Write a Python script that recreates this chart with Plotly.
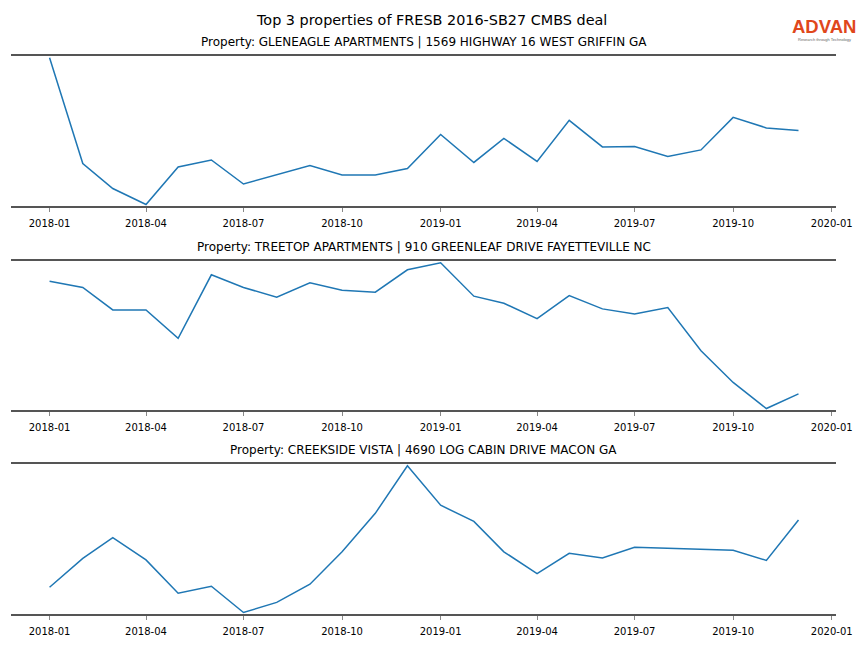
import plotly.graph_objects as go
import pandas as pd

months = pd.date_range("2018-01-01", "2019-12-01", freq="MS")

title_main = "Top 3 properties of FRESB 2016-SB27 CMBS deal"
prop_titles = [
    "Property: GLENEAGLE APARTMENTS | 1569 HIGHWAY 16 WEST GRIFFIN GA",
    "Property: TREETOP APARTMENTS | 910 GREENLEAF DRIVE FAYETTEVILLE NC",
    "Property: CREEKSIDE VISTA | 4690 LOG CABIN DRIVE MACON GA",
]

gleneagle = [594, 172, 72, 8, 158, 186, 90, 126, 164, 126, 126, 152,
             288, 176, 272, 180, 344, 238, 240, 200, 226, 356, 314, 304]
treetop = [386, 367, 300, 300, 215, 405, 367, 338, 381, 359, 353, 420,
           441, 341, 320, 274, 343, 303, 288, 307, 178, 83, 5, 49]
creekside = [53, 110, 151, 107, 41, 55, 3, 23, 59, 123, 199, 293,
             215, 183, 123, 80, 120, 111, 132, 130, 127, 126, 106, 186]

series = [gleneagle, treetop, creekside]

tick_vals = ["2018-01-01", "2018-04-01", "2018-07-01", "2018-10-01",
             "2019-01-01", "2019-04-01", "2019-07-01", "2019-10-01", "2020-01-01"]
tick_text = ["2018-01", "2018-04", "2018-07", "2018-10",
             "2019-01", "2019-04", "2019-07", "2019-10", "2020-01"]

# page body has an 8px margin; work in reference page pixels and shift
O = 8
W, H = 848, 632
ML = 11 - O
MR = W - (836 - O)
MT = 56 - O
MB = H - (614 - O)
PH = H - MT - MB
PW = W - ML - MR

def py(y):
    return (H - MB - (y - O)) / PH

def px(x):
    return ((x - O) - ML) / PW

panel_px = [(56, 206), (261, 410), (464, 614)]

fig = go.Figure()
font_family = "DejaVu Sans"

for i, vals in enumerate(series):
    n = i + 1
    xa = "x" if n == 1 else f"x{n}"
    ya = "y" if n == 1 else f"y{n}"
    fig.add_trace(go.Scatter(x=months, y=vals, mode="lines",
                             line=dict(color="#1f77b4", width=1.5),
                             xaxis=xa, yaxis=ya, showlegend=False,
                             hoverinfo="x+y"))
    top, bot = panel_px[i]
    lo, hi = min(vals), max(vals)
    span = hi - lo
    key = "" if n == 1 else str(n)
    fig.update_layout(**{
        f"xaxis{key}": dict(
            domain=[0, 1], anchor=ya, type="date",
            range=["2017-11-26", "2020-01-05"],
            tickvals=tick_vals, ticktext=tick_text,
            showline=True, mirror=True, linecolor="#555555", linewidth=2,
            ticks="outside", ticklen=4, tickwidth=1, tickcolor="#888888",
            ticklabelstandoff=3,
            showgrid=False, zeroline=False,
            tickfont=dict(size=10, color="#000000", family=font_family),
        ),
        f"yaxis{key}": dict(
            domain=[py(bot), py(top)], anchor=xa,
            range=[lo - 0.01 * span, hi + 0.012 * span],
            showline=False, showticklabels=False, ticks="",
            showgrid=False, zeroline=False,
        ),
    })
    fig.add_annotation(text=prop_titles[i], x=0.5, y=py(top - 14),
                       xref="paper", yref="paper", xanchor="center", yanchor="middle",
                       showarrow=False, font=dict(size=12, color="#000000", family=font_family))

fig.add_annotation(text=title_main, x=px(432), y=py(20.5), xref="paper", yref="paper",
                   xanchor="center", yanchor="middle", showarrow=False,
                   font=dict(size=14.4, color="#000000", family=font_family))

# logo
fig.add_annotation(text="<b>ADVAN</b>", x=px(824), y=py(27), xref="paper", yref="paper",
                   xanchor="center", yanchor="middle", showarrow=False, borderpad=0,
                   font=dict(size=18.5, color="#E0471B", family="Liberation Sans"))
fig.add_annotation(text="Research through Technology", x=px(824), y=py(40), xref="paper", yref="paper",
                   xanchor="center", yanchor="middle", showarrow=False, borderpad=0,
                   font=dict(size=4, color="#666666", family="Liberation Sans"))

fig.update_layout(width=W, height=H, margin=dict(l=ML, r=MR, t=MT, b=MB),
                  paper_bgcolor="white", plot_bgcolor="white",
                  font=dict(family=font_family))

fig.write_html("out.html")
